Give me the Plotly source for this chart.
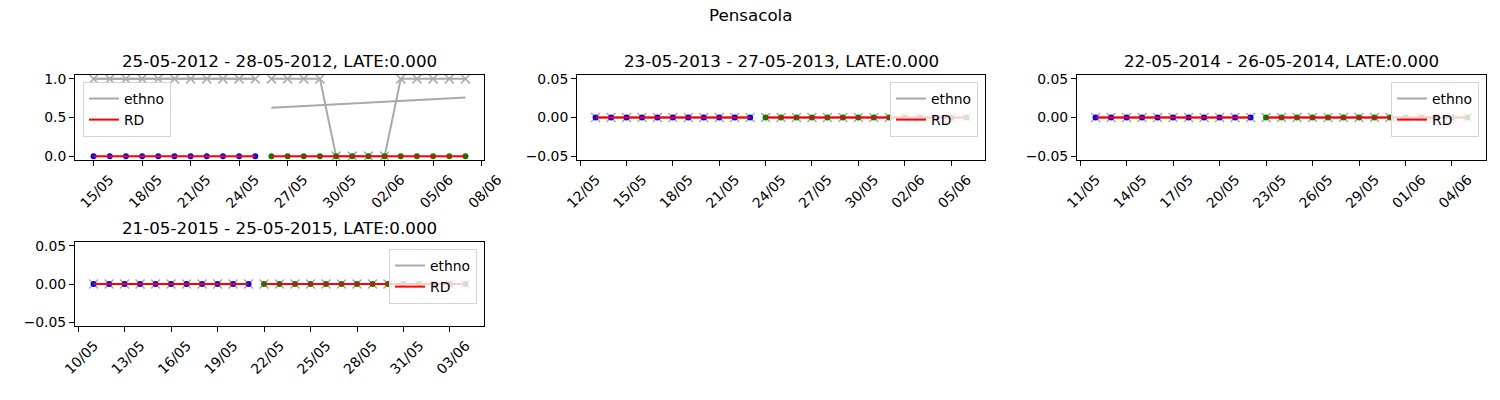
import pandas as pd
import plotly.graph_objects as go

# event windows shown in the four panels
event_start = ["2012-05-25", "2013-05-23", "2014-05-22", "2015-05-21"]
event_end = ["2012-05-28", "2013-05-27", "2014-05-26", "2015-05-25"]
late = [0.000, 0.000, 0.000, 0.000]
first_tick = ["2012-05-15", "2013-05-12", "2014-05-11", "2015-05-10"]

# ethno observations (before window: 11 days, after window: rest)
ethno_before_2012 = [1, 1, 1, 1, 1, 1, 1, 1, 1, 1, 1]
ethno_after_2012 = [1, 1, 1, 1, 0, 0, 0, 0, 1, 1, 1, 1, 1]
ethno_before_2013 = [0, 0, 0, 0, 0, 0, 0, 0, 0, 0, 0]
ethno_after_2013 = [0, 0, 0, 0, 0, 0, 0, 0, 0, 0, 0, 0, 0, 0]
ethno_before_2014 = [0, 0, 0, 0, 0, 0, 0, 0, 0, 0, 0]
ethno_after_2014 = [0, 0, 0, 0, 0, 0, 0, 0, 0, 0, 0, 0, 0, 0]
ethno_before_2015 = [0, 0, 0, 0, 0, 0, 0, 0, 0, 0, 0]
ethno_after_2015 = [0, 0, 0, 0, 0, 0, 0, 0, 0, 0, 0, 0, 0, 0]

# RD observations
rd_before_2012 = [0, 0, 0, 0, 0, 0, 0, 0, 0, 0, 0]
rd_after_2012 = [0, 0, 0, 0, 0, 0, 0, 0, 0, 0, 0, 0, 0]
rd_before_2013 = [0, 0, 0, 0, 0, 0, 0, 0, 0, 0, 0]
rd_after_2013 = [0, 0, 0, 0, 0, 0, 0, 0, 0, 0, 0, 0, 0, 0]
rd_before_2014 = [0, 0, 0, 0, 0, 0, 0, 0, 0, 0, 0]
rd_after_2014 = [0, 0, 0, 0, 0, 0, 0, 0, 0, 0, 0, 0, 0, 0]
rd_before_2015 = [0, 0, 0, 0, 0, 0, 0, 0, 0, 0, 0]
rd_after_2015 = [0, 0, 0, 0, 0, 0, 0, 0, 0, 0, 0, 0, 0, 0]

# fitted lines (first and last value of each window)
ethno_fit_before = [[1.0, 1.0], [0.0, 0.0], [0.0, 0.0], [0.0, 0.0]]
ethno_fit_after = [[0.626, 0.758], [0.0, 0.0], [0.0, 0.0], [0.0, 0.0]]
rd_fit_before = [[0.0, 0.0], [0.0, 0.0], [0.0, 0.0], [0.0, 0.0]]
rd_fit_after = [[0.0, 0.0], [0.0, 0.0], [0.0, 0.0], [0.0, 0.0]]

ethno_before = [ethno_before_2012, ethno_before_2013, ethno_before_2014, ethno_before_2015]
ethno_after = [ethno_after_2012, ethno_after_2013, ethno_after_2014, ethno_after_2015]
rd_before = [rd_before_2012, rd_before_2013, rd_before_2014, rd_before_2015]
rd_after = [rd_after_2012, rd_after_2013, rd_after_2014, rd_after_2015]

W, H = 1500, 400
FONT = "DejaVu Sans"
GRAY = "darkgray"

x_domains = [[0.05, 0.3227], [0.3847, 0.6567], [0.718, 0.9907], [0.05, 0.3227]]
y_domains = [[0.6, 0.8125], [0.6, 0.8125], [0.6, 0.8125], [0.185, 0.395]]
legend_pos = [(0.0553, 0.795, "left"), (0.652, 0.795, "right"),
              (0.986, 0.795, "right"), (0.318, 0.3775, "right")]

fig = go.Figure()
annotations = []
layout = {}

for i in range(4):
    s = pd.Timestamp(event_start[i])
    e = pd.Timestamp(event_end[i])
    days_before = pd.date_range(s - pd.Timedelta(days=10), s)
    days_after = pd.date_range(s + pd.Timedelta(days=1), e + pd.Timedelta(days=10))
    sfx = "" if i == 0 else str(i + 1)
    xa, ya = "x" + sfx, "y" + sfx
    leg = "legend" + sfx

    common = dict(xaxis=xa, yaxis=ya, legend=leg, hoverinfo="skip")
    for days, vals in [(days_before, ethno_before[i]), (days_after, ethno_after[i])]:
        fig.add_trace(go.Scatter(
            x=days, y=vals, mode="lines+markers", showlegend=False,
            line=dict(color=GRAY, width=2),
            marker=dict(symbol="x-thin", size=9, line=dict(color=GRAY, width=1.5)),
            **common))
    for days, fit, show in [(days_before, ethno_fit_before[i], False),
                            (days_after, ethno_fit_after[i], True)]:
        fig.add_trace(go.Scatter(
            x=[days[0], days[-1]], y=fit, mode="lines", name="ethno",
            showlegend=show, line=dict(color=GRAY, width=2), **common))
    fig.add_trace(go.Scatter(
        x=days_before, y=rd_before[i], mode="markers", showlegend=False,
        marker=dict(color="blue", size=6), **common))
    fig.add_trace(go.Scatter(
        x=days_after, y=rd_after[i], mode="markers", showlegend=False,
        marker=dict(color="green", size=6), **common))
    for days, fit, show in [(days_before, rd_fit_before[i], False),
                            (days_after, rd_fit_after[i], True)]:
        fig.add_trace(go.Scatter(
            x=[days[0], days[-1]], y=fit, mode="lines", name="RD",
            showlegend=show, line=dict(color="red", width=2), **common))

    lo, hi = days_before[0], days_after[-1]
    pad = (hi - lo) * 0.05
    axis_style = dict(showline=True, mirror=True, linecolor="black", linewidth=1,
                      ticks="outside", ticklen=5, tickcolor="black", showgrid=False,
                      zeroline=False, automargin=False,
                      tickfont=dict(family=FONT, size=13.9, color="black"))
    layout["xaxis" + sfx] = dict(
        domain=x_domains[i], anchor=ya, type="date", range=[lo - pad, hi + pad],
        tick0=first_tick[i], dtick=3 * 86400000, tickformat="%d/%m",
        tickangle=-45, ticklabelshift=16, **axis_style)
    if i == 0:
        yr, ytv, yfmt = [-0.05, 1.05], [0.0, 0.5, 1.0], ".1f"
    else:
        yr, ytv, yfmt = [-0.055, 0.055], [-0.05, 0.0, 0.05], ".2f"
    layout["yaxis" + sfx] = dict(
        domain=y_domains[i], anchor=xa, range=yr, tickvals=ytv,
        tickformat=yfmt, **axis_style)

    lx, ly, lxa = legend_pos[i]
    layout[leg] = dict(
        x=lx, y=ly, xanchor=lxa, yanchor="top", xref="paper", yref="paper",
        bgcolor="rgba(255,255,255,0.8)", bordercolor="#d5d5d5", borderwidth=1,
        font=dict(family=FONT, size=13.9, color="black"), itemwidth=30,
        tracegroupgap=0)

    title = f"{s:%d-%m-%Y} - {e:%d-%m-%Y}, LATE:{late[i]:.3f}"
    annotations.append(dict(
        text=title, x=sum(x_domains[i]) / 2, y=y_domains[i][1], xref="paper",
        yref="paper", xanchor="center", yanchor="bottom", yshift=2, showarrow=False,
        font=dict(family=FONT, size=16.7, color="black")))

annotations.append(dict(
    text="Pensacola", x=0.5, y=1 - 15 / H, xref="paper", yref="paper",
    xanchor="center", yanchor="middle", showarrow=False,
    font=dict(family=FONT, size=16.7, color="black")))

fig.update_layout(
    width=W, height=H, margin=dict(l=0, r=0, t=0, b=0, autoexpand=False),
    paper_bgcolor="white", plot_bgcolor="white",
    annotations=annotations, **layout)

fig.write_html("out.html", config={"displayModeBar": False},
               post_script="document.body.style.margin = '0px';")
